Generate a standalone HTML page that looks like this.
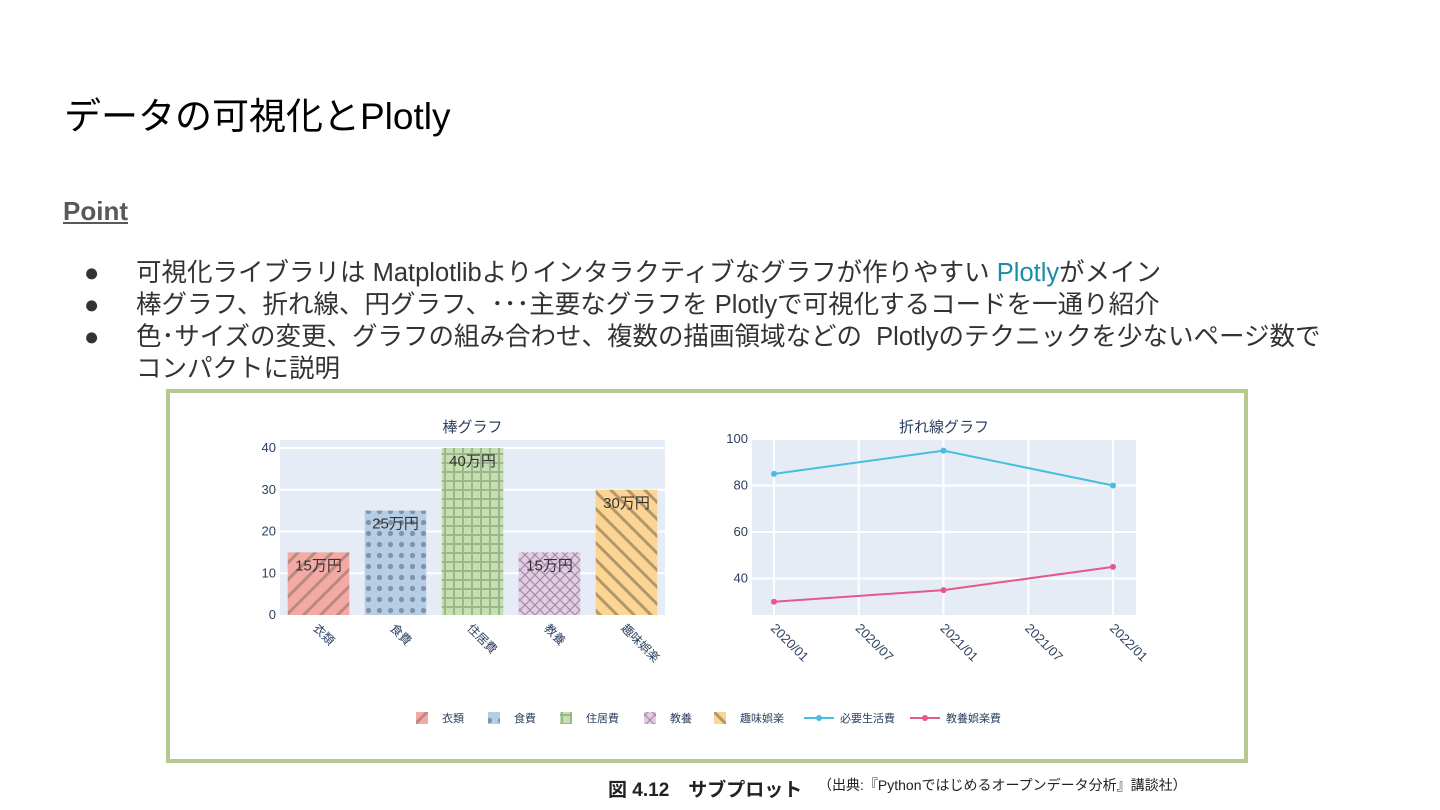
<!DOCTYPE html>
<html><head><meta charset="utf-8">
<style>
body{margin:0;width:1440px;height:810px;background:#fff;position:relative;overflow:hidden;font-family:"Liberation Sans","Noto Sans CJK JP",sans-serif;}
.t{position:absolute;white-space:nowrap;}
#title{left:64px;top:86px;font-size:37px;color:#000;}
#point{left:63px;top:196px;font-size:26px;font-weight:bold;color:#595959;text-decoration:underline;}
.b{font-size:25.5px;color:#333;left:84px;}
.b span.dot{display:inline-block;width:52px;}
a{color:#1a8ea8;}
#frame{position:absolute;left:166px;top:389px;width:1074px;height:366px;border:4px solid #b5c98e;}
svg{position:absolute;left:0;top:0;}
</style></head><body>
<div class="t" id="title">データの可視化とPlotly</div>
<div class="t" id="point">Point</div>
<div class="t b" style="top:252px"><span class="dot">●</span>可視化ライブラリは Matplotlibよりインタラクティブなグラフが作りやすい <a>Plotly</a>がメイン</div>
<div class="t b" style="top:284px"><span class="dot">●</span>棒グラフ、折れ線、円グラフ、･･･主要なグラフを Plotlyで可視化するコードを一通り紹介</div>
<div class="t b" style="top:316px"><span class="dot">●</span>色･サイズの変更、グラフの組み合わせ、複数の描画領域などの&nbsp; Plotlyのテクニックを少ないページ数で</div>
<div class="t b" style="top:348px;left:136px">コンパクトに説明</div>
<div id="frame"></div>
<svg id="chart" width="1440" height="810">
<defs>
<pattern id="p0" width="12" height="12" patternUnits="userSpaceOnUse" patternTransform="rotate(45)"><rect width="12" height="12" fill="#f4aaa3"/><rect width="3" height="12" fill="#b88a84"/></pattern>
<pattern id="p1" width="11" height="11" patternUnits="userSpaceOnUse"><rect width="11" height="11" fill="#b6cde6"/><circle cx="5.5" cy="5.5" r="2.6" fill="#8093a8"/></pattern>
<pattern id="p2" width="9" height="9" patternUnits="userSpaceOnUse"><rect width="9" height="9" fill="#c5e0b0"/><rect x="3" width="2" height="9" fill="#9cb58a"/><rect y="3" width="9" height="2" fill="#9cb58a"/></pattern>
<pattern id="p3" width="10" height="10" patternUnits="userSpaceOnUse"><rect width="10" height="10" fill="#e2cde3"/><path d="M0 0L10 10M10 0L0 10" stroke="#a48ca6" stroke-width="1.2"/></pattern>
<pattern id="p4" width="12" height="12" patternUnits="userSpaceOnUse" patternTransform="rotate(-45)"><rect width="12" height="12" fill="#fcd595"/><rect width="3" height="12" fill="#b2976a"/></pattern>
</defs>
</svg>
<div class="t" style="left:608px;top:775px;font-size:19px;font-weight:bold;color:#222">図 4.12　サブプロット</div>
<div class="t" style="left:818px;top:775px;font-size:14px;color:#222">（出典:『Pythonではじめるオープンデータ分析』講談社）</div>
<script>
const barCats=['衣類','食費','住居費','教養','趣味娯楽'];
const barVals=[15,25,40,15,30];
const barLabels=['15万円','25万円','40万円','15万円','30万円'];
const barTicks=[0,10,20,30,40];
const lineDates=['2020/01','2021/01','2022/01'];
const lineDateIdx=[0,12,24];
const seriesA=[85,95,80];
const seriesB=[30,35,45];
const lineXTicks=['2020/01','2020/07','2021/01','2021/07','2022/01'];
const lineXTickIdx=[0,6,12,18,24];
const lineYTicks=[40,60,80,100];
const svg=document.getElementById('chart');
const NS='http://www.w3.org/2000/svg';
function mk(tag,attrs,parent){const e=document.createElementNS(NS,tag);for(const k in attrs)e.setAttribute(k,attrs[k]);(parent||svg).appendChild(e);return e;}
const txtCol='#2a3f5f';
// bar chart
const bx0=280,bx1=665,by0=615,by1=440;
const byS=v=>by0-(v/40)*(by0-448);
const bw=(bx1-bx0)/barCats.length;
let r=mk('rect',{x:bx0,y:by1,width:bx1-bx0,height:by0-by1,fill:'#e5ecf6'});

barTicks.forEach(t=>{const y=byS(t);if(t>0){let g=mk('line',{x1:bx0,x2:bx1,y1:y,y2:y,stroke:'#fff','stroke-width':2});}
let l=mk('text',{x:bx0-4,y:y+4,'text-anchor':'end','font-size':13,fill:txtCol});l.textContent=t;});
barCats.forEach((c,i)=>{const cx=bx0+bw*(i+0.5),w=bw*0.8,y=byS(barVals[i]);
let b=mk('rect',{x:cx-w/2,y:y,width:w,height:by0-y,fill:'url(#p'+i+')'});
let l=mk('text',{x:cx,y:y+18,'text-anchor':'middle','font-size':15,fill:'#333'});l.textContent=barLabels[i];
let tk=mk('text',{x:cx-6,y:by0+14,'font-size':12,fill:txtCol,transform:`rotate(45 ${cx-6} ${by0+14})`});tk.textContent=c;});
let t1=mk('text',{x:(bx0+bx1)/2,y:432,'text-anchor':'middle','font-size':15,fill:txtCol});t1.textContent='棒グラフ';
// line chart
const lx0=752,lx1=1136,ly0=615,ly1=439;
const lxS=m=>774+(m/24)*(1113-774);
const lyS=v=>ly1+(100-v)/20*46.5;
r=mk('rect',{x:lx0,y:ly1,width:lx1-lx0,height:ly0-ly1,fill:'#e5ecf6'});
lineYTicks.forEach(t=>{const y=lyS(t);let g=mk('line',{x1:lx0,x2:lx1,y1:y,y2:y,stroke:'#fff','stroke-width':2});
let l=mk('text',{x:lx0-4,y:y+4,'text-anchor':'end','font-size':13,fill:txtCol});l.textContent=t;});
lineXTicks.forEach((t,i)=>{const x=lxS(lineXTickIdx[i]);let g=mk('line',{x1:x,x2:x,y1:ly1,y2:ly0,stroke:'#fff','stroke-width':2});
let l=mk('text',{x:x-4,y:ly0+14,'font-size':13,fill:txtCol,transform:`rotate(45 ${x-4} ${ly0+14})`});l.textContent=t;});
[[seriesA,'#48bde0','line-necessary-living'],[seriesB,'#e5588a','line-culture-leisure']].forEach(([s,col,nm])=>{
const pts=s.map((v,i)=>lxS(lineDateIdx[i])+','+lyS(v)).join(' ');
let p=mk('polyline',{points:pts,fill:'none',stroke:col,'stroke-width':2});
s.forEach((v,i)=>{let c=mk('circle',{cx:lxS(lineDateIdx[i]),cy:lyS(v),r:3,fill:col});});});
let t2=mk('text',{x:(lx0+lx1)/2,y:432,'text-anchor':'middle','font-size':15,fill:txtCol});t2.textContent='折れ線グラフ';
// legend
const legNames=['衣類','食費','住居費','教養','趣味娯楽','必要生活費','教養娯楽費'];
const legX=[416,488,560,644,714,804,910];
legNames.forEach((n,i)=>{const x=legX[i],y=718;
let m;if(i<5){m=mk('rect',{x:x,y:y-6,width:12,height:12,fill:'url(#p'+i+')'});}
else{const col=i==5?'#48bde0':'#e5588a';m=mk('g',{});mk('line',{x1:x,x2:x+30,y1:y,y2:y,stroke:col,'stroke-width':2},m);mk('circle',{cx:x+15,cy:y,r:3,fill:col},m);}

let l=mk('text',{x:x+(i<5?26:36),y:y+4,'font-size':11,fill:txtCol});l.textContent=n;});
</script>
</body></html>
